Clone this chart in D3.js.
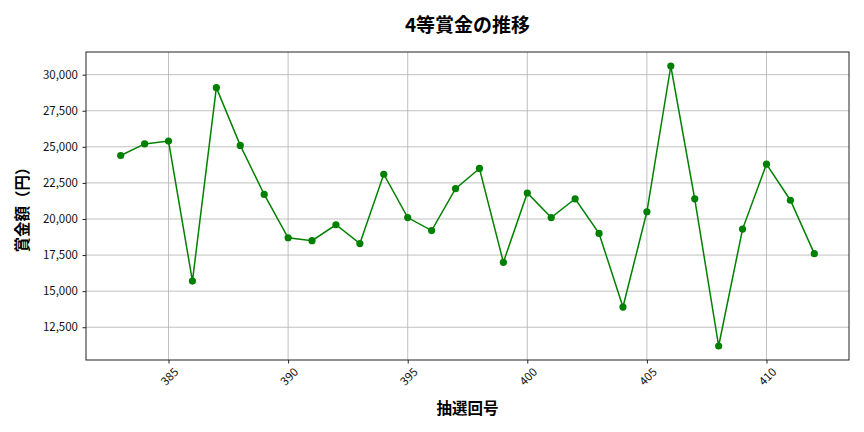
<!DOCTYPE html>
<html>
<head>
<meta charset="utf-8">
<script src="https://cdn.jsdelivr.net/npm/d3@7"></script>
<style>
  body { margin: 0; background: #fff; }
  svg text { font-family: "Noto Sans CJK JP", "Noto Sans", sans-serif; }
</style>
</head>
<body>
<svg id="chart" width="864" height="432"></svg>
<script>
// draw numbers 383..412
const draws = [383, 384, 385, 386, 387, 388, 389, 390, 391, 392, 393, 394, 395, 396, 397,
               398, 399, 400, 401, 402, 403, 404, 405, 406, 407, 408, 409, 410, 411, 412];
const prizes = [24400, 25200, 25400, 15700, 29100, 25100, 21700, 18700, 18500, 19600, 18300, 23100, 20100, 19200, 22100,
                23500, 17000, 21800, 20100, 21400, 19000, 13900, 20500, 30600, 21400, 11200, 19300, 23800, 21300, 17600];
const xTicks = [385, 390, 395, 400, 405, 410];
const yTicks = [12500, 15000, 17500, 20000, 22500, 25000, 27500, 30000];

const plotL = 86, plotR = 849, plotT = 52, plotB = 360;
const svg = d3.select('#chart');

// matplotlib-like 5% margins
const xPad = (d3.max(draws) - d3.min(draws)) * 0.05;
const yPad = (d3.max(prizes) - d3.min(prizes)) * 0.05;
const x = d3.scaleLinear()
    .domain([d3.min(draws) - xPad, d3.max(draws) + xPad])
    .range([plotL, plotR]);
const y = d3.scaleLinear()
    .domain([d3.min(prizes) - yPad, d3.max(prizes) + yPad])
    .range([plotB, plotT]);

// grid
svg.append('g')
    .selectAll('line')
    .data(xTicks)
    .join('line')
    .attr('x1', d => x(d)).attr('x2', d => x(d))
    .attr('y1', plotT).attr('y2', plotB)
    .attr('stroke', '#b0b0b0').attr('stroke-width', 0.8);
svg.append('g')
    .selectAll('line')
    .data(yTicks)
    .join('line')
    .attr('x1', plotL).attr('x2', plotR)
    .attr('y1', d => y(d)).attr('y2', d => y(d))
    .attr('stroke', '#b0b0b0').attr('stroke-width', 0.8);

// axes
const xAxis = svg.append('g')
    .attr('transform', `translate(0,${plotB})`)
    .call(d3.axisBottom(x).tickValues(xTicks).tickSize(3.5).tickSizeOuter(0).tickFormat(d3.format('d')));
xAxis.attr('font-family', null);
xAxis.select('.domain').remove();
xAxis.selectAll('.tick line').attr('stroke', '#222');
xAxis.selectAll('.tick text')
    .attr('y', 0).attr('dy', 0)
    .attr('font-size', 11.5).attr('fill', '#111')
    .attr('text-anchor', 'middle')
    .attr('dominant-baseline', 'central')
    .attr('transform', 'translate(0,16) rotate(-45)');

const yAxis = svg.append('g')
    .attr('transform', `translate(${plotL},0)`)
    .call(d3.axisLeft(y).tickValues(yTicks).tickSize(3.5).tickSizeOuter(0).tickFormat(d3.format(',')));
yAxis.attr('font-family', null);
yAxis.select('.domain').remove();
yAxis.selectAll('.tick line').attr('stroke', '#222');
yAxis.selectAll('.tick text').attr('font-size', 11.5).attr('fill', '#111').attr('x', -8);

// frame
svg.append('rect')
    .attr('x', plotL).attr('y', plotT)
    .attr('width', plotR - plotL).attr('height', plotB - plotT)
    .attr('fill', 'none').attr('stroke', '#222').attr('stroke-width', 1);

// line + markers
const line = d3.line().x((d, i) => x(draws[i])).y(d => y(d));
svg.append('path')
    .datum(prizes)
    .attr('d', line)
    .attr('fill', 'none')
    .attr('stroke', 'green')
    .attr('stroke-width', 1.5);
svg.append('g')
    .selectAll('circle')
    .data(prizes)
    .join('circle')
    .attr('cx', (d, i) => x(draws[i]))
    .attr('cy', d => y(d))
    .attr('r', 3.6)
    .attr('fill', 'green');

// labels
svg.append('text')
    .attr('x', (plotL + plotR) / 2).attr('y', 32)
    .attr('text-anchor', 'middle')
    .attr('font-size', 19).attr('font-weight', 'bold')
    .text('4等賞金の推移');
svg.append('text')
    .attr('x', (plotL + plotR) / 2).attr('y', 414)
    .attr('text-anchor', 'middle')
    .attr('font-size', 15.5).attr('font-weight', 'bold')
    .text('抽選回号');
svg.append('text')
    .attr('transform', `translate(28,${(plotT + plotB) / 2}) rotate(-90)`)
    .attr('text-anchor', 'middle')
    .attr('font-size', 15.5).attr('font-weight', 'bold')
    .text('賞金額（円）');
</script>
</body>
</html>
